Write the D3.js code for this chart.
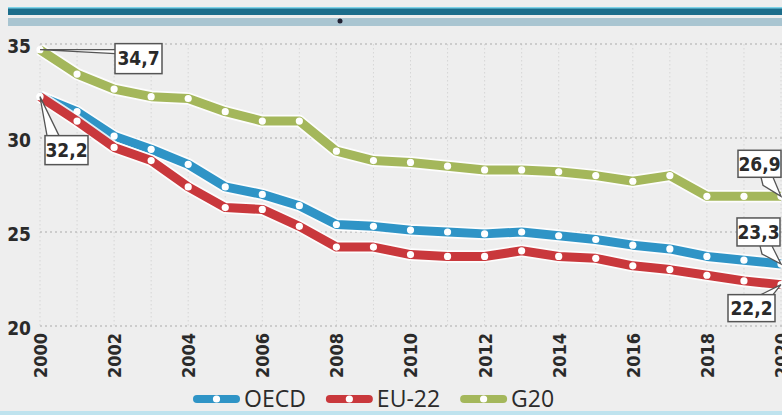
<!DOCTYPE html>
<html>
<head>
<meta charset="utf-8">
<script src="https://cdn.jsdelivr.net/npm/d3@7"></script>
<style>
  body { margin: 0; background: #eeeeee; }
  svg { display: block; }
  .cond { font-family: "DejaVu Sans", sans-serif; font-stretch: condensed; font-weight: bold; }
</style>
</head>
<body>
<div id="chart"></div>
<script>
// years on the x axis
const years = d3.range(2000, 2021);
const yearTicks = [2000, 2002, 2004, 2006, 2008, 2010, 2012, 2014, 2016, 2018, 2020];
const valueTicks = [20, 25, 30, 35];

// series values
const oecd = [32.2, 31.4, 30.1, 29.4, 28.6, 27.4, 27.0, 26.4, 25.4, 25.3, 25.1, 25.0, 24.9, 25.0, 24.8, 24.6, 24.3, 24.1, 23.7, 23.5, 23.3];
const eu22 = [32.2, 30.9, 29.5, 28.8, 27.4, 26.3, 26.2, 25.3, 24.2, 24.2, 23.8, 23.7, 23.7, 24.0, 23.7, 23.6, 23.2, 23.0, 22.7, 22.4, 22.2];
const g20 = [34.7, 33.4, 32.6, 32.2, 32.1, 31.4, 30.9, 30.9, 29.3, 28.8, 28.7, 28.5, 28.3, 28.3, 28.2, 28.0, 27.7, 28.0, 26.9, 26.9, 26.9];

const seriesNames = ["OECD", "EU-22", "G20"];
const seriesColors = ["#2f94c6", "#c9383c", "#a4b75b"];

// labelled points: series index, year
const callouts = [
  { s: 2, year: 2000 },
  { s: 0, year: 2000 },
  { s: 2, year: 2020 },
  { s: 0, year: 2020 },
  { s: 1, year: 2020 },
];

const W = 782, H = 415;
const series = [oecd, eu22, g20].map((vals, i) => ({
  name: seriesNames[i],
  color: seriesColors[i],
  points: vals.map((v, j) => ({ year: years[j], value: v })),
}));

const svg = d3.select("#chart").append("svg").attr("width", W).attr("height", H);

// decorative header bars
svg.append("rect").attr("x", 8).attr("y", 7).attr("width", W - 8).attr("height", 8).attr("fill", "#1c6d8b");
svg.append("rect").attr("x", 8).attr("y", 7).attr("width", W - 8).attr("height", 1.5).attr("fill", "#7fd3e8");
svg.append("rect").attr("x", 8).attr("y", 18).attr("width", W - 8).attr("height", 8).attr("fill", "#a9c5d1");
svg.append("circle").attr("cx", 340).attr("cy", 21).attr("r", 2.5).attr("fill", "#223");
svg.append("rect").attr("x", 0).attr("y", H - 4).attr("width", W).attr("height", 4).attr("fill", "#bfe3ee");

const x = d3.scaleLinear().domain([2000, 2020]).range([40, 781]);
const y = d3.scaleLinear().domain([20, 35]).range([326, 44]);

// vertical grid
svg.append("g")
  .selectAll("line")
  .data(years)
  .join("line")
  .attr("x1", (d) => x(d)).attr("x2", (d) => x(d))
  .attr("y1", y(35)).attr("y2", y(20))
  .attr("stroke", "#d6d6d6")
  .attr("stroke-dasharray", "1.5,2.5");

// horizontal grid
svg.append("g")
  .selectAll("line")
  .data(valueTicks)
  .join("line")
  .attr("x1", 40).attr("x2", W)
  .attr("y1", (d) => y(d)).attr("y2", (d) => y(d))
  .attr("stroke", "#a9a9a9")
  .attr("stroke-width", 1.2)
  .attr("stroke-dasharray", "2,3");

// y axis labels
const yAxis = svg.append("g")
  .attr("transform", "translate(31,2)")
  .call(d3.axisLeft(y).tickValues(valueTicks).tickSize(0).tickPadding(0));
yAxis.select(".domain").remove();
yAxis.selectAll("text")
  .attr("class", "cond")
  .attr("font-size", 19)
  .attr("fill", "#2a2a2a");

// x axis labels, rotated
const xAxis = svg.append("g")
  .attr("transform", "translate(0,333)")
  .call(d3.axisBottom(x).tickValues(yearTicks).tickFormat(d3.format("d")).tickSize(0));
xAxis.select(".domain").remove();
xAxis.selectAll("text")
  .attr("class", "cond")
  .attr("font-size", 18)
  .attr("fill", "#2a2a2a")
  .attr("text-anchor", "end")
  .attr("transform", "rotate(-90)")
  .attr("x", 0)
  .attr("y", 0)
  .attr("dy", "0.36em");

const line = d3.line().x((d) => x(d.year)).y((d) => y(d.value));

// draw lines, back to front: G20, OECD, EU-22
[2, 0, 1].forEach((i) => {
  const s = series[i];
  svg.append("path")
    .datum(s.points)
    .attr("d", line)
    .attr("fill", "none")
    .attr("stroke", "#ffffff")
    .attr("stroke-opacity", 0.85)
    .attr("stroke-width", 12.5)
    .attr("stroke-linejoin", "round");
  svg.append("path")
    .datum(s.points)
    .attr("d", line)
    .attr("fill", "none")
    .attr("stroke", s.color)
    .attr("stroke-width", 9)
    .attr("stroke-linejoin", "round");
  svg.append("g")
    .selectAll("circle")
    .data(s.points)
    .join("circle")
    .attr("cx", (d) => x(d.year))
    .attr("cy", (d) => y(d.value))
    .attr("r", 3.6)
    .attr("fill", "#ffffff");
});

// callout boxes (offsets of box from the point)
const boxLayout = [
  { dx: 75, dy: -6, w: 47, h: 30, tail: "left" },
  { dx: 5, dy: 39, w: 43, h: 29, tail: "up" },
  { dx: -43, dy: -46, w: 43, h: 27, tail: "down" },
  { dx: -44, dy: -46, w: 43, h: 28, tail: "down" },
  { dx: -53, dy: 10, w: 47, h: 27, tail: "upright" },
];

const cg = svg.append("g");
callouts.forEach((c, k) => {
  const s = series[c.s];
  const p = s.points.find((d) => d.year === c.year);
  const px = x(p.year), py = y(p.value);
  const b = boxLayout[k];
  const bx = px + b.dx, by = py + b.dy;
  let tail;
  if (b.tail === "left") tail = [[bx, by + 6], [px, py], [bx, by + 10]];
  else if (b.tail === "up") tail = [[bx + 2, by], [px, py], [bx + 14, by]];
  else if (b.tail === "down") tail = [[bx + b.w - 20, by + b.h], [bx + b.w - 18, by + b.h + 8], [px, py], [bx + b.w - 8, by + b.h]];
  else tail = [[bx + b.w - 14, by], [px, py], [bx + b.w - 2, by]];
  cg.append("path")
    .attr("d", d3.line()(tail))
    .attr("fill", "#ffffff")
    .attr("stroke", "#555")
    .attr("stroke-width", 1.3);
  cg.append("rect")
    .attr("x", bx).attr("y", by)
    .attr("width", b.w).attr("height", b.h)
    .attr("fill", "#ffffff")
    .attr("stroke", "#555")
    .attr("stroke-width", 1.5);
  cg.append("text")
    .attr("class", "cond")
    .attr("x", bx + b.w / 2)
    .attr("y", by + b.h / 2)
    .attr("dy", "0.36em")
    .attr("text-anchor", "middle")
    .attr("font-size", 19)
    .attr("fill", "#2a2a2a")
    .text(p.value.toFixed(1).replace(".", ","));
});

// legend
const legend = svg.append("g").attr("transform", "translate(193,399)");
let lx = 0;
series.forEach((s) => {
  const item = legend.append("g").attr("transform", `translate(${lx},0)`);
  item.append("line")
    .attr("x1", 4).attr("x2", 43)
    .attr("stroke", s.color)
    .attr("stroke-width", 8)
    .attr("stroke-linecap", "round");
  item.append("circle").attr("cx", 23.5).attr("r", 3.6).attr("fill", "#fff");
  const t = item.append("text")
    .attr("x", 51)
    .attr("dy", "0.36em")
    .attr("font-family", "'Open Sans', sans-serif")
    .attr("font-size", 23)
    .attr("fill", "#2b2b2b")
    .text(s.name);
  lx += 51 + t.node().getComputedTextLength() + 20;
});
</script>
</body>
</html>
